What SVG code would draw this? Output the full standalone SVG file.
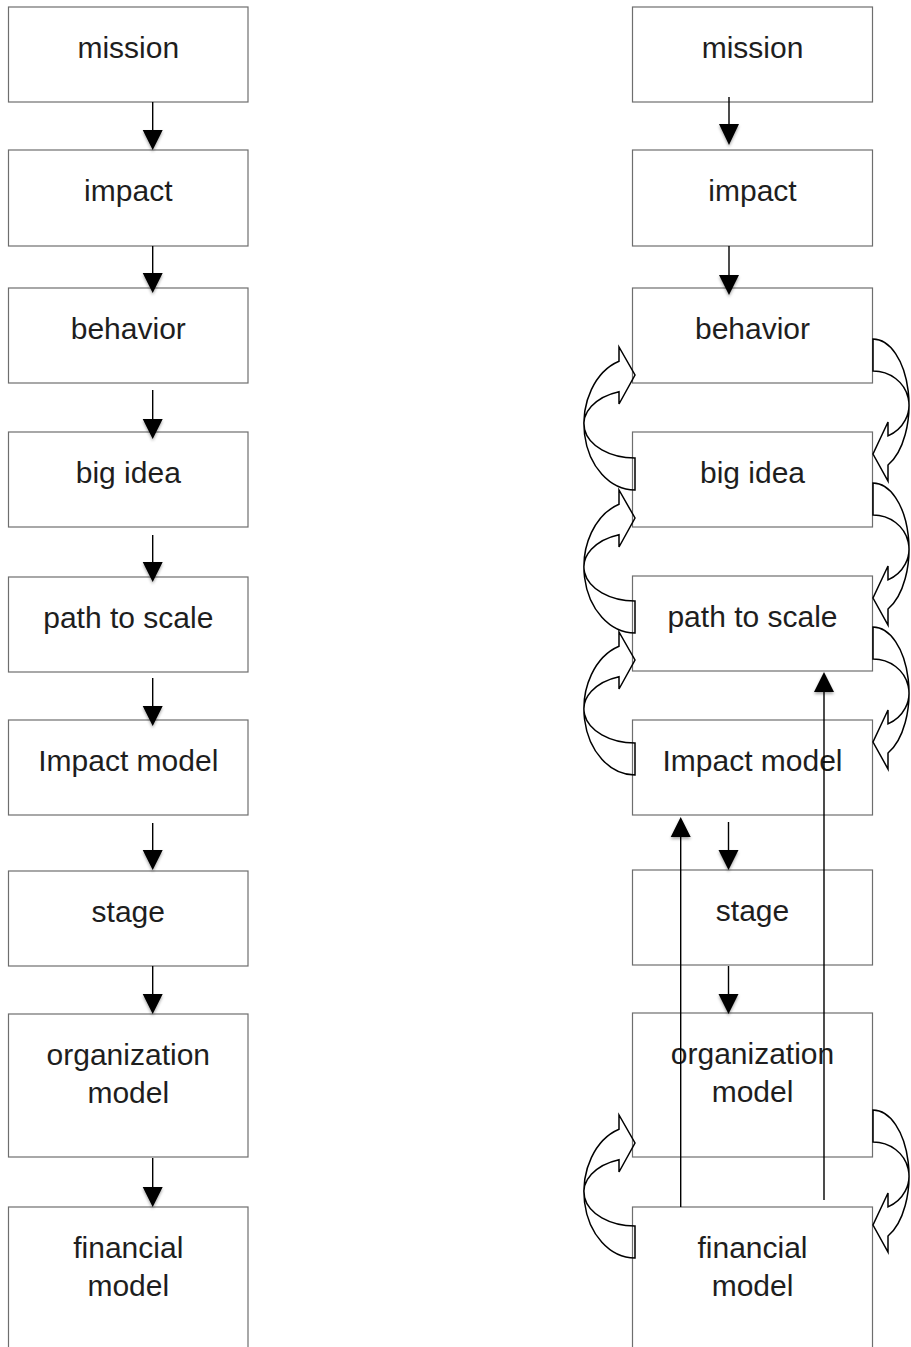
<svg xmlns="http://www.w3.org/2000/svg" xmlns:xlink="http://www.w3.org/1999/xlink" width="911" height="1347" viewBox="0 0 911 1347">
<style>
.box{fill:#fff;stroke:#6e6e6e;stroke-width:1.2}
.lbl{font-family:"Liberation Sans",Arial,sans-serif;font-size:30px;fill:#1e1e1e;text-anchor:middle}
.ln{stroke:#000;stroke-width:1.4;fill:none}
.hd{fill:#000;filter:url(#sh)}
.cv{fill:none;stroke:#000;stroke-width:1.5;stroke-linejoin:miter}
</style>
<defs>
<filter id="sh" x="-50%" y="-50%" width="200%" height="200%">
<feDropShadow dx="0" dy="2" stdDeviation="1.5" flood-color="#000" flood-opacity="0.35"/>
</filter>
<path id="curvL" d="M 0 34 A 51 34 0 0 1 -16 -32.3 L -16 -20 L 0 -49 L -16 -77 L -16 -62.7 A 51 66 0 0 0 0 66 Z"/>
<path id="curvR" d="M 0 -34 A 36 34 0 0 1 15 30.9 L 15 17 L 0 49 L 15 76 L 15 60 A 36 66 0 0 0 0 -66 Z"/>
</defs>
<rect width="911" height="1347" fill="#fff"/>
<g id="L-mission"><rect class="box" x="8.5" y="7" width="239.5" height="95"/><text class="lbl" x="128.3" y="58">mission</text></g>
<g id="L-impact"><rect class="box" x="8.5" y="150" width="239.5" height="96"/><text class="lbl" x="128.3" y="201">impact</text></g>
<g id="L-behavior"><rect class="box" x="8.5" y="288" width="239.5" height="95"/><text class="lbl" x="128.3" y="339">behavior</text></g>
<g id="L-bigidea"><rect class="box" x="8.5" y="432" width="239.5" height="95"/><text class="lbl" x="128.3" y="483">big idea</text></g>
<g id="L-path"><rect class="box" x="8.5" y="577" width="239.5" height="95"/><text class="lbl" x="128.3" y="628">path to scale</text></g>
<g id="L-impactmodel"><rect class="box" x="8.5" y="720" width="239.5" height="95"/><text class="lbl" x="128.3" y="771">Impact model</text></g>
<g id="L-stage"><rect class="box" x="8.5" y="871" width="239.5" height="95"/><text class="lbl" x="128.3" y="922">stage</text></g>
<g id="L-org"><rect class="box" x="8.5" y="1014" width="239.5" height="143"/><text class="lbl" x="128.3" y="1065">organization</text><text class="lbl" x="128.3" y="1102.5">model</text></g>
<g id="L-financial"><rect class="box" x="8.5" y="1207" width="239.5" height="200"/><text class="lbl" x="128.3" y="1258">financial</text><text class="lbl" x="128.3" y="1295.5">model</text></g>
<g id="R-mission"><rect class="box" x="632.5" y="7" width="240" height="95"/><text class="lbl" x="752.5" y="58">mission</text></g>
<g id="R-impact"><rect class="box" x="632.5" y="150" width="240" height="96"/><text class="lbl" x="752.5" y="201">impact</text></g>
<g id="R-behavior"><rect class="box" x="632.5" y="288" width="240" height="95"/><text class="lbl" x="752.5" y="339">behavior</text></g>
<g id="R-bigidea"><rect class="box" x="632.5" y="432" width="240" height="95"/><text class="lbl" x="752.5" y="483">big idea</text></g>
<g id="R-path"><rect class="box" x="632.5" y="576" width="240" height="95"/><text class="lbl" x="752.5" y="627">path to scale</text></g>
<g id="R-impactmodel"><rect class="box" x="632.5" y="720" width="240" height="95"/><text class="lbl" x="752.5" y="771">Impact model</text></g>
<g id="R-stage"><rect class="box" x="632.5" y="870" width="240" height="95"/><text class="lbl" x="752.5" y="921">stage</text></g>
<g id="R-org"><rect class="box" x="632.5" y="1013" width="240" height="144"/><text class="lbl" x="752.5" y="1064">organization</text><text class="lbl" x="752.5" y="1101.5">model</text></g>
<g id="R-financial"><rect class="box" x="632.5" y="1207" width="240" height="200"/><text class="lbl" x="752.5" y="1258">financial</text><text class="lbl" x="752.5" y="1295.5">model</text></g>
<g id="connectors">
<path class="ln" d="M152.7 102V131M152.7 246V274M152.7 390V420M152.7 535V563M152.7 678V707M152.7 823V851M152.7 966V995M152.7 1158V1188"/>
<path class="hd" d="M142.7 130h20l-10 20zM142.7 273h20l-10 20zM142.7 419h20l-10 20zM142.7 562h20l-10 20zM142.7 706h20l-10 20zM142.7 850h20l-10 20zM142.7 994h20l-10 20zM142.7 1187h20l-10 20z"/>
<path class="ln" d="M729 97V124M729 246V276M728.5 822V851M728.5 966V995"/>
<path class="hd" d="M719 124h20l-10 21zM719 275h20l-10 20zM718.5 850h20l-10 20zM718.5 994h20l-10 20z"/>
<path class="ln" d="M680.7 1207V836M824 1200V691"/>
<path class="hd" d="M670.7 837h20l-10 -20zM814 692h20l-10 -20z"/>
<use class="cv" href="#curvL" transform="translate(635,424)"/>
<use class="cv" href="#curvL" transform="translate(635,567)"/>
<use class="cv" href="#curvL" transform="translate(635,709)"/>
<use class="cv" href="#curvL" transform="translate(635,1192)"/>
<use class="cv" href="#curvR" transform="translate(873,405)"/>
<use class="cv" href="#curvR" transform="translate(873,549)"/>
<use class="cv" href="#curvR" transform="translate(873,693)"/>
<use class="cv" href="#curvR" transform="translate(873,1176)"/>
</g>
</svg>
